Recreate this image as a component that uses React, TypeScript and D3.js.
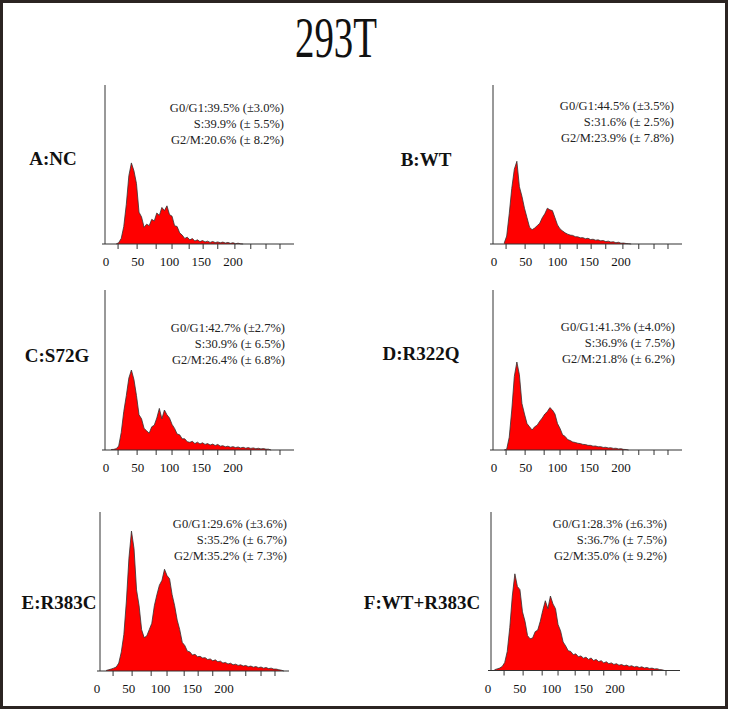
import React from "react";
import * as d3 from "d3";

const BIN = 4;
const title = "293T";
const panelNames = ["A:NC", "B:WT", "C:S72G", "D:R322Q", "E:R383C", "F:WT+R383C"];
const statsA = ["G0/G1:39.5% (±3.0%)", "S:39.9% (± 5.5%)", "G2/M:20.6% (± 8.2%)"];
const statsB = ["G0/G1:44.5% (±3.5%)", "S:31.6% (± 2.5%)", "G2/M:23.9% (± 7.8%)"];
const statsC = ["G0/G1:42.7% (±2.7%)", "S:30.9% (± 6.5%)", "G2/M:26.4% (± 6.8%)"];
const statsD = ["G0/G1:41.3% (±4.0%)", "S:36.9% (± 7.5%)", "G2/M:21.8% (± 6.2%)"];
const statsE = ["G0/G1:29.6% (±3.6%)", "S:35.2% (± 6.7%)", "G2/M:35.2% (± 7.3%)"];
const statsF = ["G0/G1:28.3% (±6.3%)", "S:36.7% (± 7.5%)", "G2/M:35.0% (± 9.2%)"];

const tickValues = [19, 49, 79, 104, 131, 153, 176, 203, 228, 252, 274];
const tickLabels = [0, 50, 100, 150, 200];

// histogram heights (% of axis height), bins of width BIN starting at startX
const startA = 16;
const histA = [0, 0.8, 3.5, 11, 25, 43, 51, 46, 38, 20, 17, 10.5, 12.5, 11.5, 15.5, 14.5, 19.5, 18, 23, 21, 24, 18.5, 17.5, 11.5, 11, 7, 5.6, 3.5, 4.3, 2.6, 3.4, 1.9, 2.6, 1.5, 2.2, 1.3, 1.8, 1.0, 1.6, 0.9, 1.3, 0.8, 1.2, 0.6, 1.0, 0.4, 0.8, 0.2, 0.5, 0.1, 0];
const startB = 16;
const histB = [0.5, 5, 19, 35, 47, 52, 36, 30, 22.5, 16.5, 10.5, 9, 10, 11.5, 13, 16.5, 19, 22.5, 21.5, 21, 16.5, 12, 9.5, 8.2, 7, 6.2, 5.6, 5.4, 4.6, 4.5, 3.9, 4.0, 3.3, 3.6, 2.8, 3.0, 2.4, 2.6, 2.0, 2.2, 1.5, 1.8, 1.2, 1.4, 0.8, 1.1, 0.5, 0.6, 0.3, 0.2, 0];
const startC = 8;
const histC = [0.3, 0.4, 0.8, 2.5, 11, 24, 34, 45, 50, 44, 34, 22, 19.5, 13.5, 12, 10.5, 14.5, 15.5, 20, 26, 19.5, 25, 22, 20, 16, 13.5, 10, 9.5, 7, 7, 5.2, 4.8, 5.4, 4.0, 4.9, 3.8, 4.5, 3.5, 4.0, 3.1, 3.7, 2.8, 3.5, 2.4, 2.7, 2.0, 2.4, 1.7, 2.1, 1.5, 1.9, 1.3, 1.7, 1.1, 1.5, 1.0, 1.3, 0.8, 1.1, 0.7, 0.9, 0.5, 0.5, 0];
const startD = 16;
const histD = [0, 0.5, 8, 25, 46, 55, 47, 29, 22.5, 16.5, 14.5, 12.5, 14.5, 15.5, 18, 20, 22.5, 24, 26.5, 25, 22.5, 16.5, 13.5, 9.5, 8.5, 6.5, 5.9, 5.0, 4.7, 4.2, 4.0, 3.5, 3.4, 2.9, 2.9, 2.4, 2.5, 2.0, 2.1, 1.6, 1.7, 1.3, 1.4, 1.0, 1.1, 0.7, 0.8, 0.4, 0.3, 0];
const startE = 8;
const histE = [0.3, 0.8, 1.2, 1.8, 2.5, 5, 12, 23, 44, 71, 88, 77, 51, 41, 26, 21, 22, 26, 30, 41, 48, 54, 57, 64, 60, 58, 48, 41, 32, 26, 18, 16, 12.5, 12, 10, 10.5, 9, 9.2, 8.2, 8.4, 7.2, 7.6, 6.4, 7.0, 5.8, 6.2, 5.0, 5.4, 4.4, 4.9, 3.9, 4.3, 3.5, 3.9, 3.1, 3.5, 2.7, 3.1, 2.4, 2.8, 2.1, 2.5, 1.8, 2.2, 1.5, 1.8, 1.2, 1.2, 0.8, 0.5, 0];
const startF = 4;
const histF = [0.5, 1, 1.5, 2.5, 5, 12, 27, 47, 61, 53, 51, 37, 31, 22, 20, 20.5, 24.5, 25.5, 31, 38, 44, 39, 47, 42, 39, 29, 25, 18, 15.5, 12.5, 12, 10, 10.5, 8.7, 9.2, 7.8, 8.4, 7.0, 7.9, 6.3, 7.0, 5.6, 6.2, 4.8, 5.5, 4.3, 4.8, 3.8, 4.3, 3.3, 3.8, 3.0, 3.4, 2.6, 3.0, 2.2, 2.6, 1.9, 2.3, 1.6, 1.9, 1.3, 1.5, 1.0, 1.1, 0.6, 0.4, 0];

const layout = [
  { ax: 105, top: 85, base: 244, statX: 284, statY: 111.5, lblX: 53, lblY: 165, shift: 0 },
  { ax: 493, top: 85, base: 244, statX: 674, statY: 109.5, lblX: 426, lblY: 166, shift: 0 },
  { ax: 105, top: 290, base: 450, statX: 285, statY: 331.5, lblX: 57, lblY: 362, shift: 0 },
  { ax: 493, top: 290, base: 450, statX: 675, statY: 331, lblX: 421, lblY: 360, shift: 0 },
  { ax: 100, top: 512, base: 671, statX: 287, statY: 527.5, lblX: 59, lblY: 609, shift: -4 },
  { ax: 491, top: 512, base: 670.5, statX: 667, statY: 527.5, lblX: 422, lblY: 609, shift: -4 },
];

const panelData = [
  { stats: statsA, start: startA, hist: histA },
  { stats: statsB, start: startB, hist: histB },
  { stats: statsC, start: startC, hist: histC },
  { stats: statsD, start: startD, hist: histD },
  { stats: statsE, start: startE, hist: histE },
  { stats: statsF, start: startF, hist: histF },
];

const FONT = '"Liberation Serif", "Times New Roman", Times, serif';

function Panel({ cfg, name, stats, start, hist }: any) {
  const x = d3.scaleLinear().domain([0, 200]).range([cfg.ax + 1, cfg.ax + 128]);
  const y = d3.scaleLinear().domain([0, 100]).range([cfg.base, cfg.top]);
  const pts: [number, number][] = hist.map((v: number, i: number) => [start + i * BIN, v]);
  const area = d3
    .area<[number, number]>()
    .x((d) => x(d[0]))
    .y0(y(0))
    .y1((d) => y(d[1]))(pts);
  const line = d3
    .line<[number, number]>()
    .x((d) => x(d[0]))
    .y((d) => y(d[1]))(pts);
  const axisColor = "#333";
  return (
    <g>
      <path d={area || ""} fill="#ff0000" />
      <path d={line || ""} fill="none" stroke="#333" strokeWidth={1} strokeOpacity={0.8} />
      <line x1={cfg.ax} x2={cfg.ax} y1={cfg.top} y2={cfg.base} stroke={axisColor} strokeWidth={1} />
      <line x1={cfg.ax - 3} x2={cfg.ax + 189} y1={cfg.base} y2={cfg.base} stroke={axisColor} strokeWidth={1.2} />
      {tickValues.map((t) => (
        <line key={t} x1={x(t)} x2={x(t)} y1={cfg.base} y2={cfg.base + 5} stroke={axisColor} strokeWidth={1} />
      ))}
      {tickLabels.map((t) => (
        <text key={t} x={x(t) + cfg.shift} y={cfg.base + 22} fontSize={13} textAnchor="middle" fill="#111">
          {t}
        </text>
      ))}
      {stats.map((s: string, i: number) => (
        <text key={i} x={cfg.statX} y={cfg.statY + i * 16} fontSize={12.5} textAnchor="end" fill="#222">
          {s}
        </text>
      ))}
      <text x={cfg.lblX} y={cfg.lblY} fontSize={19} fontWeight="bold" textAnchor="middle" fill="#111">
        {name}
      </text>
    </g>
  );
}

export default function App() {
  const W = 731,
    H = 709;
  return (
    <svg
      width={W}
      height={H}
      style={{ position: "absolute", left: 0, top: 0, display: "block" }}
      fontFamily={FONT}
    >
      <rect x={0} y={0} width={W} height={H} fill="#fff" />
      <rect x={1.5} y={1.5} width={725} height={706} fill="none" stroke="#2b2422" strokeWidth={3} />
      <text x={295} y={57} fontSize={58} textLength={82} lengthAdjust="spacingAndGlyphs" fill="#111">
        {title}
      </text>
      {layout.map((cfg, i) => (
        <Panel key={i} cfg={cfg} name={panelNames[i]} {...panelData[i]} />
      ))}
    </svg>
  );
}
